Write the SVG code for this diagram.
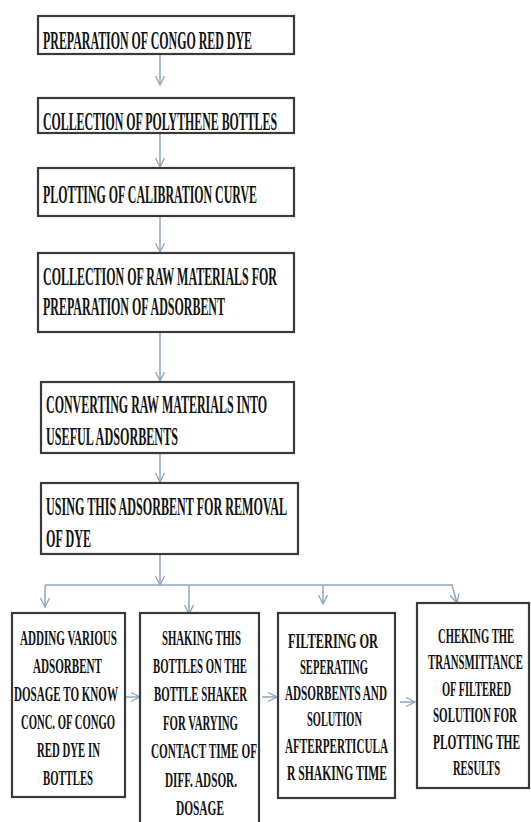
<svg xmlns="http://www.w3.org/2000/svg" width="531" height="822" viewBox="0 0 531 822">
<defs>
<marker id="ah" markerUnits="userSpaceOnUse" markerWidth="12" markerHeight="12" refX="10" refY="5" orient="auto">
<path d="M1,0.5 L10,5 L1,9.5" fill="none" stroke="#8ea6bc" stroke-width="1.3"/>
</marker>
<style>
.box{fill:#fff;stroke:#3a3a3a;stroke-width:2.2}
.t{font-family:"Liberation Serif","Times New Roman",serif;font-weight:bold;fill:#111;font-size:25px}
.s{font-family:"Liberation Serif","Times New Roman",serif;font-weight:bold;fill:#111;font-size:20px}
.c{fill:none;stroke:#8ea6bc;stroke-width:1.5}
</style>
</defs>
<rect width="531" height="822" fill="#fff"/>
<g id="connectors">
<line class="c" x1="160" y1="54" x2="160" y2="85" marker-end="url(#ah)"/>
<line class="c" x1="160" y1="133" x2="160" y2="167" marker-end="url(#ah)"/>
<line class="c" x1="160" y1="216" x2="160" y2="252" marker-end="url(#ah)"/>
<line class="c" x1="160" y1="332" x2="160" y2="381" marker-end="url(#ah)"/>
<line class="c" x1="160" y1="453" x2="160" y2="482" marker-end="url(#ah)"/>
<line class="c" x1="160" y1="554" x2="160" y2="585" marker-end="url(#ah)"/>
<polyline class="c" points="45,585 452,585 457,603" marker-end="url(#ah)"/>
<line class="c" x1="45" y1="585" x2="45" y2="607" marker-end="url(#ah)"/>
<line class="c" x1="189" y1="585" x2="189" y2="614" marker-end="url(#ah)"/>
<line class="c" x1="323" y1="585" x2="323" y2="604" marker-end="url(#ah)"/>
<line class="c" x1="126" y1="697" x2="140" y2="697" marker-end="url(#ah)"/>
<line class="c" x1="262" y1="697" x2="277" y2="697" marker-end="url(#ah)"/>
<line class="c" x1="400" y1="702" x2="415" y2="702" marker-end="url(#ah)"/>
</g>
<g id="n1">
<rect class="box" x="38" y="16" width="256" height="38"/>
<g transform="scale(0.5,1)"><text class="t" x="86" y="49" textLength="418" lengthAdjust="spacingAndGlyphs">PREPARATION OF CONGO RED DYE</text></g>
</g>
<g id="n2">
<rect class="box" x="38" y="98" width="256" height="35"/>
<g transform="scale(0.5,1)"><text class="t" x="86" y="130" textLength="468" lengthAdjust="spacingAndGlyphs">COLLECTION OF POLYTHENE BOTTLES</text></g>
</g>
<g id="n3">
<rect class="box" x="38" y="168" width="256" height="48"/>
<g transform="scale(0.5,1)"><text class="t" x="86" y="203" textLength="428" lengthAdjust="spacingAndGlyphs">PLOTTING OF CALIBRATION CURVE</text></g>
</g>
<g id="n4">
<rect class="box" x="38" y="253" width="256" height="79"/>
<g transform="scale(0.5,1)">
<text class="t" x="86" y="285" textLength="468" lengthAdjust="spacingAndGlyphs">COLLECTION OF RAW MATERIALS FOR</text>
<text class="t" x="86" y="315" textLength="364" lengthAdjust="spacingAndGlyphs">PREPARATION OF ADSORBENT</text>
</g>
</g>
<g id="n5">
<rect class="box" x="41" y="382" width="253" height="71"/>
<g transform="scale(0.5,1)">
<text class="t" x="92" y="413" textLength="442" lengthAdjust="spacingAndGlyphs">CONVERTING RAW MATERIALS INTO</text>
<text class="t" x="92" y="445" textLength="264" lengthAdjust="spacingAndGlyphs">USEFUL ADSORBENTS</text>
</g>
</g>
<g id="n6">
<rect class="box" x="41" y="483" width="257" height="71"/>
<g transform="scale(0.5,1)">
<text class="t" x="92" y="515" textLength="482" lengthAdjust="spacingAndGlyphs">USING THIS ADSORBENT FOR REMOVAL</text>
<text class="t" x="92" y="547" textLength="90" lengthAdjust="spacingAndGlyphs">OF DYE</text>
</g>
</g>
<g id="n7">
<rect class="box" x="12" y="613" width="113" height="184"/>
<g transform="scale(0.5,1)">
<text class="s" x="40" y="645" textLength="194" lengthAdjust="spacingAndGlyphs">ADDING VARIOUS</text>
<text class="s" x="66" y="673" textLength="138" lengthAdjust="spacingAndGlyphs">ADSORBENT</text>
<text class="s" x="28" y="701" textLength="208" lengthAdjust="spacingAndGlyphs">DOSAGE TO KNOW</text>
<text class="s" x="42" y="729" textLength="188" lengthAdjust="spacingAndGlyphs">CONC. OF CONGO</text>
<text class="s" x="74" y="757" textLength="126" lengthAdjust="spacingAndGlyphs">RED DYE IN</text>
<text class="s" x="86" y="785" textLength="100" lengthAdjust="spacingAndGlyphs">BOTTLES</text>
</g>
</g>
<g id="n8">
<rect class="box" x="140" y="613" width="119" height="215"/>
<g transform="scale(0.5,1)">
<text class="s" x="324" y="645" textLength="158" lengthAdjust="spacingAndGlyphs">SHAKING THIS</text>
<text class="s" x="306" y="673" textLength="188" lengthAdjust="spacingAndGlyphs">BOTTLES ON THE</text>
<text class="s" x="308" y="701" textLength="186" lengthAdjust="spacingAndGlyphs">BOTTLE SHAKER</text>
<text class="s" x="326" y="730" textLength="150" lengthAdjust="spacingAndGlyphs">FOR VARYING</text>
<text class="s" x="302" y="758" textLength="212" lengthAdjust="spacingAndGlyphs">CONTACT TIME OF</text>
<text class="s" x="330" y="787" textLength="144" lengthAdjust="spacingAndGlyphs">DIFF. ADSOR.</text>
<text class="s" x="352" y="815" textLength="96" lengthAdjust="spacingAndGlyphs">DOSAGE</text>
</g>
</g>
<g id="n9">
<rect class="box" x="278" y="613" width="117" height="185"/>
<g transform="scale(0.5,1)">
<text class="s" x="576" y="648" textLength="180" lengthAdjust="spacingAndGlyphs">FILTERING OR</text>
<text class="s" x="600" y="674" textLength="136" lengthAdjust="spacingAndGlyphs">SEPERATING</text>
<text class="s" x="570" y="700" textLength="204" lengthAdjust="spacingAndGlyphs">ADSORBENTS AND</text>
<text class="s" x="614" y="726" textLength="110" lengthAdjust="spacingAndGlyphs">SOLUTION</text>
<text class="s" x="570" y="753" textLength="206" lengthAdjust="spacingAndGlyphs">AFTERPERTICULA</text>
<text class="s" x="574" y="780" textLength="200" lengthAdjust="spacingAndGlyphs">R SHAKING TIME</text>
</g>
</g>
<g id="n10">
<rect class="box" x="417" y="603" width="112" height="185"/>
<g transform="scale(0.5,1)">
<text class="s" x="876" y="643" textLength="152" lengthAdjust="spacingAndGlyphs">CHEKING THE</text>
<text class="s" x="856" y="669" textLength="190" lengthAdjust="spacingAndGlyphs">TRANSMITTANCE</text>
<text class="s" x="884" y="696" textLength="138" lengthAdjust="spacingAndGlyphs">OF FILTERED</text>
<text class="s" x="866" y="722" textLength="168" lengthAdjust="spacingAndGlyphs">SOLUTION FOR</text>
<text class="s" x="866" y="749" textLength="174" lengthAdjust="spacingAndGlyphs">PLOTTING THE</text>
<text class="s" x="906" y="775" textLength="94" lengthAdjust="spacingAndGlyphs">RESULTS</text>
</g>
</g>
</svg>
